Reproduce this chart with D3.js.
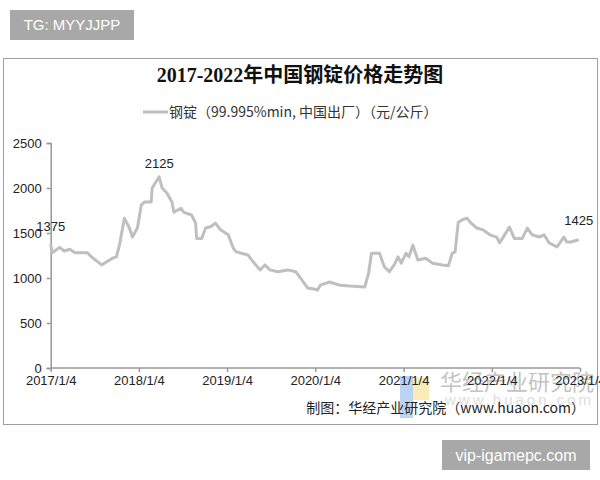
<!DOCTYPE html>
<html><head><meta charset="utf-8">
<script src="https://cdn.jsdelivr.net/npm/d3@7"></script>
<style>
html,body{margin:0;padding:0;background:#fff;}
svg{display:block;}
</style></head>
<body>
<svg id="c" width="600" height="480"></svg>
<script>
const title = "2017-2022年中国钢锭价格走势图";
const seriesName = "钢锭（99.995%min, 中国出厂）（元/公斤）";
const dates = ["2017-01-04","2017-01-10","2017-02-10","2017-03-01","2017-03-24","2017-04-14","2017-06-05","2017-06-22","2017-08-03","2017-08-24","2017-09-17","2017-10-03","2017-10-16","2017-11-05","2017-11-26","2017-12-08","2017-12-29","2018-01-14","2018-01-27","2018-02-24","2018-02-28","2018-03-29","2018-04-10","2018-04-30","2018-05-21","2018-05-29","2018-06-27","2018-07-09","2018-08-10","2018-08-27","2018-08-31","2018-09-21","2018-10-07","2018-10-28","2018-11-17","2018-12-08","2019-01-09","2019-01-30","2019-02-11","2019-04-01","2019-04-22","2019-05-21","2019-06-10","2019-07-01","2019-08-02","2019-09-12","2019-10-15","2019-11-04","2019-12-03","2020-01-04","2020-01-13","2020-01-25","2020-03-02","2020-04-16","2020-05-26","2020-07-27","2020-08-12","2020-08-24","2020-09-26","2020-10-16","2020-11-06","2020-11-26","2020-12-12","2020-12-25","2021-01-14","2021-01-26","2021-02-11","2021-03-04","2021-04-05","2021-05-04","2021-06-14","2021-07-08","2021-07-24","2021-08-05","2021-08-18","2021-09-03","2021-09-23","2021-10-06","2021-11-03","2021-11-28","2021-12-27","2022-01-24","2022-02-05","2022-02-17","2022-03-18","2022-04-07","2022-05-10","2022-05-31","2022-06-20","2022-07-19","2022-08-08","2022-08-29","2022-10-01","2022-10-29","2022-11-10","2022-11-27","2022-12-30"];
const prices = [1375,1280,1340,1300,1320,1280,1280,1235,1145,1180,1220,1235,1370,1665,1555,1455,1555,1810,1845,1845,2000,2125,2000,1945,1845,1730,1775,1730,1700,1610,1440,1440,1555,1570,1610,1535,1480,1330,1290,1255,1180,1090,1145,1090,1070,1090,1070,1000,890,875,865,920,955,920,910,900,1055,1275,1275,1125,1070,1145,1235,1165,1275,1235,1365,1200,1220,1165,1145,1135,1275,1290,1620,1645,1665,1620,1555,1535,1480,1455,1390,1440,1565,1440,1440,1555,1480,1455,1480,1390,1345,1455,1400,1400,1425];
const yTicks = [0,500,1000,1500,2000,2500];
const xTickDates = ["2017-01-04","2018-01-04","2019-01-04","2020-01-04","2021-01-04","2022-01-04","2023-01-04"];
const xTickLabels = ["2017/1/4","2018/1/4","2019/1/4","2020/1/4","2021/1/4","2022/1/4","2023/1/4"];
const labelIdx = [0, 21, 96];
const caption = "制图：华经产业研究院（www.huaon.com）";

const parse = d3.timeParse("%Y-%m-%d");
const data = dates.map((d,i)=>({date:parse(d), v:prices[i]}));
const svg = d3.select("#c");
const font = "Arial, 'Liberation Sans', 'Noto Sans CJK SC', sans-serif";

svg.append("rect").attr("x",10).attr("y",10).attr("width",124).attr("height",30).attr("fill","#a8a8a8");
svg.append("text").attr("x",72).attr("y",30).attr("text-anchor","middle").attr("fill","#fff")
  .style("font-family",font).style("font-size","15px").text("TG: MYYJJPP");

svg.append("rect").attr("x",3.5).attr("y",58.5).attr("width",594).attr("height",366)
  .attr("fill","#fff").attr("stroke","#a0a0a0").attr("stroke-width",1);

svg.append("text").attr("x",300).attr("y",82).attr("text-anchor","middle").attr("fill","#111")
  .style("font-family","'Liberation Serif','Noto Sans CJK SC',serif").style("font-weight","bold").style("font-size","20px").text(title);

svg.append("line").attr("x1",143).attr("x2",168).attr("y1",112).attr("y2",112).attr("stroke","#bfbfbf").attr("stroke-width",3);
svg.append("text").attr("x",169).attr("y",117).attr("fill","#333")
  .style("font-family","'Noto Sans CJK SC','DejaVu Sans Mono',monospace").style("font-size","14px").text(seriesName);

const x = d3.scaleTime().domain([parse("2017-01-04"), parse("2023-01-04")]).range([50.7, 580]);
const y = d3.scaleLinear().domain([0,2500]).range([368,143]);

svg.append("rect").attr("x",400).attr("y",376).attr("width",13).attr("height",42).attr("fill","#9cc3f0").attr("opacity",0.7);
svg.append("rect").attr("x",413).attr("y",378).attr("width",16).attr("height",22).attr("fill","#f5e49a").attr("opacity",0.7);
svg.append("text").attr("x",440).attr("y",390).attr("fill","#b0b0b0").attr("opacity",0.75)
  .style("font-family","'Noto Sans CJK SC',sans-serif").style("font-size","22px").text("华经产业研究院");
svg.append("text").attr("x",445).attr("y",405).attr("fill","#c8c8c8").attr("opacity",0.6)
  .style("font-family",font).style("font-size","15px").style("letter-spacing","3px").text("www.huaon.com");

const yAxis = svg.append("g").attr("transform","translate(50.7,0)")
  .call(d3.axisLeft(y).tickValues(yTicks).tickFormat(d3.format("d")).tickSize(4).tickPadding(5));
const xAxis = svg.append("g").attr("transform","translate(0,368)")
  .call(d3.axisBottom(x).tickValues(xTickDates.map(parse)).tickFormat((d,i)=>xTickLabels[i]).tickSize(4).tickPadding(4));
[yAxis,xAxis].forEach(g=>{
  g.selectAll("path,line").attr("stroke","#999").attr("stroke-width",1.5);
  g.selectAll("text").attr("fill","#222").style("font-family",font).style("font-size","13px");
});
xAxis.select(".domain").attr("d","M50.7,0H580");

svg.append("path").datum(data).attr("fill","none").attr("stroke","#bfbfbf").attr("stroke-width",3)
  .attr("stroke-linejoin","round")
  .attr("d", d3.line().x(d=>x(d.date)).y(d=>y(d.v)));

const offs = [[0,-13],[0,-9],[0,-15]];
labelIdx.forEach((i,k)=>{
  svg.append("text").attr("x",x(data[i].date)+offs[k][0]).attr("y",y(data[i].v)+offs[k][1])
    .attr("text-anchor","middle").attr("fill","#222").style("font-family",font).style("font-size","13px").text(prices[i]);
});

svg.append("text").attr("x",585).attr("y",413).attr("text-anchor","end").attr("fill","#222")
  .style("font-family","'Noto Sans CJK SC',sans-serif").style("font-size","14px").text(caption);

svg.append("rect").attr("x",442).attr("y",440).attr("width",148).attr("height",30).attr("fill","#a8a8a8");
svg.append("text").attr("x",516).attr("y",461).attr("text-anchor","middle").attr("fill","#fff")
  .style("font-family",font).style("font-size","16px").text("vip-igamepc.com");
</script>
</body></html>
